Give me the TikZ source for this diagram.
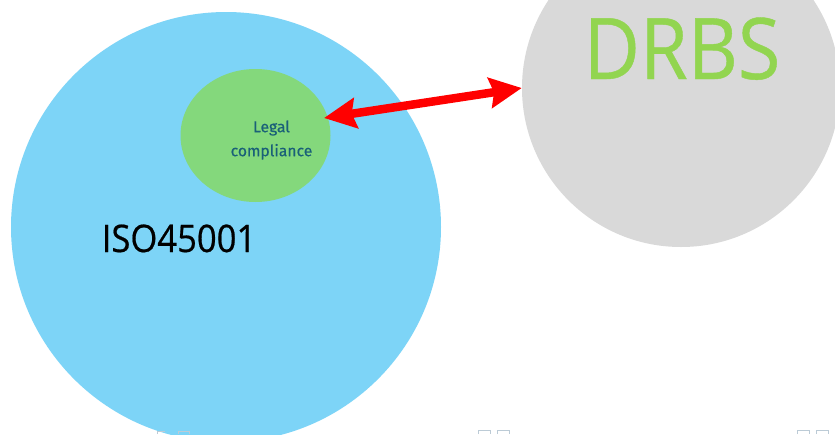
\documentclass[tikz,border=0pt]{standalone}
\usepackage{fontspec}
\setmainfont{Open Sans}[FakeStretch=0.91,FakeBold=0.5]
\newfontfamily\legalfont{Fira Sans}[FakeBold=0.4]
\usetikzlibrary{arrows.meta,shapes.geometric}
\definecolor{isoblue}{HTML}{7DD4F7}
\definecolor{leafgreen}{HTML}{84D87C}
\definecolor{drbsgrey}{HTML}{D9D9D9}
\definecolor{drbsgreen}{HTML}{92D550}
\definecolor{legalblue}{HTML}{1A6078}
\definecolor{markgrey}{HTML}{BCCBD6}
\tikzset{
  bubble/.style={circle,inner sep=0pt,minimum size=#1},
  twoway/.style={draw=red,line width=8.5pt,{Stealth[length=32pt,width=30pt,inset=4pt,fill=red]}-{Stealth[length=32pt,width=30pt,inset=4pt,fill=red]}},
  tinymark/.style={draw=markgrey,line width=1pt}
}
\begin{document}
\begin{tikzpicture}[x=1pt,y=-1pt]
\useasboundingbox (0,0) rectangle (835,434);
\fill[white] (0,0) rectangle (835,434);
\begin{scope}
\clip (0,0) rectangle (835,434);
\node[bubble=430pt,fill=isoblue] (iso) at (226,227) {};
\node[bubble=318pt,fill=drbsgrey] (drbs) at (681,88) {};
\draw[tinymark] (157,434) -- (157,431) -- (165,431);
\draw[tinymark] (178,434) -- (178,431) -- (189,431) -- (189,434);
\draw[tinymark] (478,434) -- (478,430) -- (490,430) -- (490,434);
\draw[tinymark] (497,434) -- (497,430) -- (509,430) -- (509,434);
\draw[tinymark] (797,434) -- (797,430) -- (809,430) -- (809,434);
\draw[tinymark] (816,434) -- (816,430) -- (828,430) -- (828,434);
\end{scope}
\node[ellipse,inner sep=0pt,minimum width=150pt,minimum height=133pt,fill=leafgreen] (legal) at (255.5,135.5) {};
\node[text=legalblue,font=\legalfont\fontsize{15.7}{24}\selectfont,align=center,inner sep=0pt] (legaltext) at (271.5,140) {Legal\\compliance};
\node[font=\fontsize{38}{44}\selectfont,inner sep=0pt,anchor=base] (isotext) at (179,252) {ISO45001};
\node[text=drbsgreen,font=\fontsize{85}{94}\selectfont,inner sep=0pt,anchor=base] (drbstext) at (682,79) {DRBS};
\coordinate (legalend) at (324,118);
\draw[twoway] (legalend) -- (drbs.west);
\end{tikzpicture}
\end{document}
